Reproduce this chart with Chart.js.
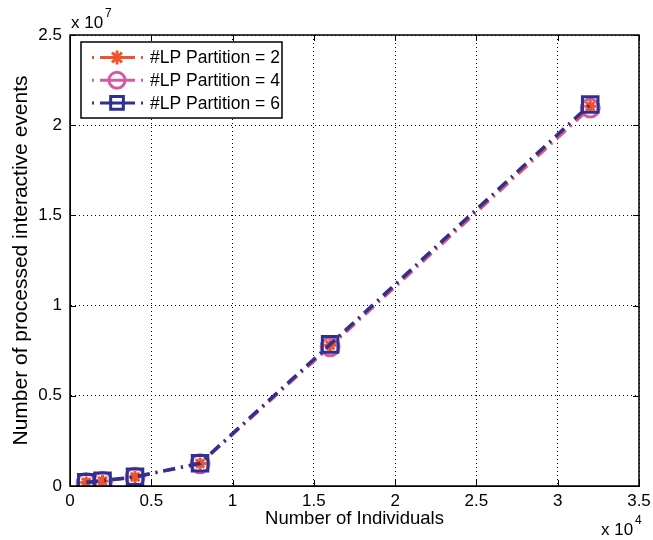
<!DOCTYPE html>
<html>
<head>
<meta charset="utf-8">
<script src="https://cdn.jsdelivr.net/npm/chart.js@4.4.0/dist/chart.umd.min.js"></script>
<style>
  html, body { margin: 0; padding: 0; background: #fff; }
</style>
</head>
<body>
<canvas id="myChart" width="653" height="540"></canvas>
<script>
const individuals = [1000, 2000, 4000, 8000, 16000, 32000];
const eventsLP2 = [200000, 280000, 500000, 1250000, 7800000, 21050000];
const eventsLP4 = [190000, 270000, 490000, 1230000, 7720000, 20950000];
const eventsLP6 = [210000, 290000, 510000, 1260000, 7850000, 21150000];
const seriesLabels = ['#LP Partition = 2', '#LP Partition = 4', '#LP Partition = 6'];
const xTicks = [0, 0.5, 1, 1.5, 2, 2.5, 3, 3.5];
const yTicks = [0, 0.5, 1, 1.5, 2, 2.5];

const RED = '#f0532b';
const PINK = '#d45aa6';
const BLUE = '#2e3192';
const FONT = '"Liberation Sans", Arial, Helvetica, sans-serif';
const DASH = [12, 6, 2, 6];

function pts(ys) {
    return individuals.map((x, i) => ({ x: x, y: ys[i] }));
}

function drawMarker(ctx, style, x, y, r, color) {
    ctx.save();
    ctx.setLineDash([]);
    ctx.strokeStyle = color;
    ctx.lineWidth = 3;
    ctx.beginPath();
    if (style === 'star') {
        for (let a = 0; a < 4; a++) {
            const ang = a * Math.PI / 4;
            ctx.moveTo(x - r * Math.cos(ang), y - r * Math.sin(ang));
            ctx.lineTo(x + r * Math.cos(ang), y + r * Math.sin(ang));
        }
    } else if (style === 'circle') {
        ctx.arc(x, y, r, 0, Math.PI * 2);
    } else {
        const s = r * Math.SQRT1_2;
        ctx.rect(x - s, y - s, 2 * s, 2 * s);
    }
    ctx.stroke();
    ctx.restore();
}

const framePlugin = {
    id: 'frame',
    afterDraw(chart) {
        const ctx = chart.ctx;
        const a = chart.chartArea;
        const xs = chart.scales.x;
        const ys = chart.scales.y;
        ctx.save();
        ctx.strokeStyle = '#000';
        ctx.lineWidth = 1.5;
        ctx.setLineDash([]);
        ctx.strokeRect(a.left, a.top, a.right - a.left, a.bottom - a.top);
        // inward ticks on all four sides
        ctx.lineWidth = 1;
        ctx.beginPath();
        xTicks.forEach(t => {
            const px = Math.round(xs.getPixelForValue(t * 1e4)) + 0.5;
            ctx.moveTo(px, a.bottom); ctx.lineTo(px, a.bottom - 6);
            ctx.moveTo(px, a.top); ctx.lineTo(px, a.top + 6);
        });
        yTicks.forEach(t => {
            const py = Math.round(ys.getPixelForValue(t * 1e7)) + 0.5;
            ctx.moveTo(a.left, py); ctx.lineTo(a.left + 6, py);
            ctx.moveTo(a.right, py); ctx.lineTo(a.right - 6, py);
        });
        ctx.stroke();

        // exponent labels
        ctx.fillStyle = '#000';
        ctx.textBaseline = 'alphabetic';
        ctx.textAlign = 'left';
        ctx.font = '17px ' + FONT;
        ctx.fillText('x 10', 71, 28);
        ctx.font = '12px ' + FONT;
        ctx.fillText('7', 105, 17);
        ctx.font = '17px ' + FONT;
        ctx.fillText('x 10', 601, 535);
        ctx.font = '12px ' + FONT;
        ctx.fillText('4', 635, 524);

        // legend box
        const lx = 81, ly = 42, lw = 201, lh = 76;
        ctx.fillStyle = '#fff';
        ctx.fillRect(lx, ly, lw, lh);
        ctx.strokeStyle = '#000';
        ctx.lineWidth = 1.5;
        ctx.strokeRect(lx, ly, lw, lh);
        const styles = ['star', 'circle', 'rect'];
        const colors = [RED, PINK, BLUE];
        const radii = [7, 8, 9];
        chart.data.datasets.forEach((ds, i) => {
            const y = ly + 15.5 + i * 22.7;
            ctx.save();
            ctx.strokeStyle = colors[i];
            ctx.lineWidth = 3;
            ctx.beginPath();
            ctx.moveTo(92, y); ctx.lineTo(94, y);
            ctx.moveTo(100, y); ctx.lineTo(135, y);
            ctx.moveTo(141, y); ctx.lineTo(143, y);
            ctx.stroke();
            ctx.restore();
            drawMarker(ctx, styles[i], 117, y, radii[i], colors[i]);
            ctx.fillStyle = '#000';
            ctx.font = '17.5px ' + FONT;
            ctx.textBaseline = 'middle';
            ctx.fillText(ds.label, 150, y + 1);
        });
        ctx.restore();
    }
};

new Chart(document.getElementById('myChart').getContext('2d'), {
    type: 'line',
    data: {
        datasets: [
            {
                label: seriesLabels[0],
                data: pts(eventsLP2),
                borderColor: RED,
                backgroundColor: RED,
                borderWidth: 3,
                borderDash: DASH,
                pointStyle: 'star',
                pointRadius: 6,
                pointBorderWidth: 3,
                order: 2,
            },
            {
                label: seriesLabels[1],
                data: pts(eventsLP4),
                borderColor: PINK,
                backgroundColor: 'rgba(0,0,0,0)',
                borderWidth: 3,
                borderDash: DASH,
                pointStyle: 'circle',
                pointRadius: 9,
                pointBorderWidth: 3,
                order: 3,
            },
            {
                label: seriesLabels[2],
                data: pts(eventsLP6),
                borderColor: BLUE,
                backgroundColor: 'rgba(0,0,0,0)',
                borderWidth: 3.5,
                borderDash: DASH,
                pointStyle: 'rect',
                pointRadius: 11,
                pointBorderWidth: 3,
                order: 1,
            },
        ],
    },
    options: {
        responsive: false,
        animation: false,
        layout: { padding: { top: 35, right: 11, left: 0, bottom: 0 } },
        plugins: {
            legend: { display: false },
            tooltip: { enabled: false },
        },
        scales: {
            x: {
                type: 'linear',
                min: 0,
                max: 35000,
                afterFit(scale) {
                    scale.height = 54;
                    scale.paddingLeft = 0;
                    scale.paddingRight = 0;
                },
                afterBuildTicks(scale) { scale.ticks = xTicks.map(v => ({ value: v * 1e4 })); },
                ticks: {
                    color: '#000',
                    font: { family: FONT, size: 17 },
                    padding: 5,
                    maxRotation: 0,
                    autoSkip: false,
                    callback: v => String(v / 1e4),
                },
                grid: { color: '#000', lineWidth: 1, drawTicks: false },
                border: { display: true, color: '#000', dash: [1, 3] },
                title: {
                    display: true,
                    text: 'Number of Individuals',
                    color: '#000',
                    font: { family: FONT, size: 18.5 },
                    padding: { top: 0, bottom: 10 },
                },
            },
            y: {
                type: 'linear',
                min: 0,
                max: 25000000,
                afterFit(scale) {
                    scale.width = 70;
                    scale.paddingTop = 0;
                    scale.paddingBottom = 0;
                },
                afterBuildTicks(scale) { scale.ticks = yTicks.map(v => ({ value: v * 1e7 })); },
                ticks: {
                    color: '#000',
                    font: { family: FONT, size: 17 },
                    padding: 8,
                    autoSkip: false,
                    callback: v => String(v / 1e7),
                },
                grid: { color: '#000', lineWidth: 1, drawTicks: false },
                border: { display: true, color: '#000', dash: [1, 3] },
                title: {
                    display: true,
                    text: 'Number of processed interactive events',
                    color: '#000',
                    font: { family: FONT, size: 21 },
                    padding: { top: 9, bottom: 0 },
                },
            },
        },
    },
    plugins: [framePlugin],
});
</script>
</body>
</html>
